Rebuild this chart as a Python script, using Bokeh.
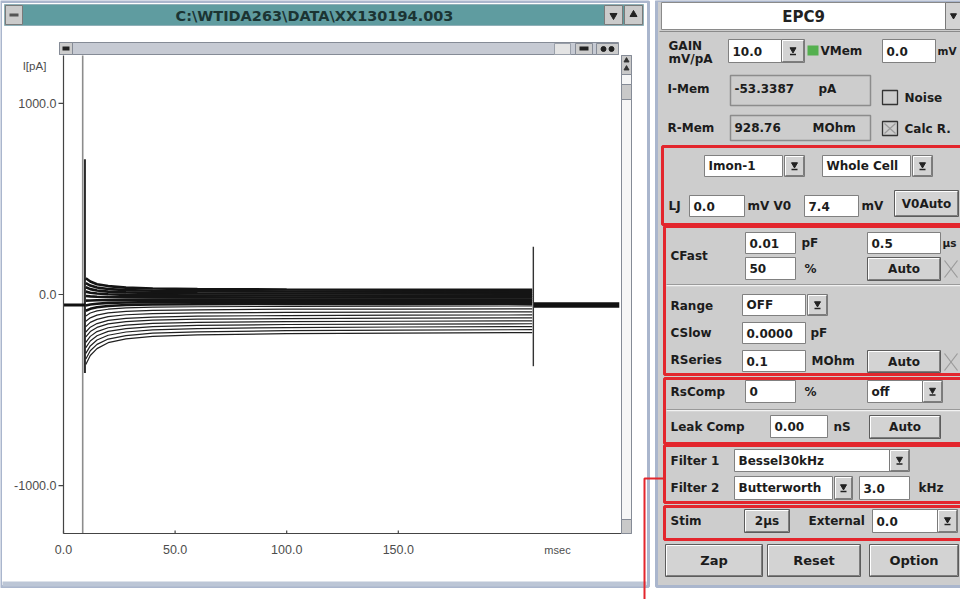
from bokeh.plotting import figure
from bokeh.models import Range1d
from bokeh.embed import file_html
from bokeh.resources import INLINE
from bokeh.core.properties import value

# ---------------- data ----------------
time_range_ms = [0.0, 250.0]
current_range_pA = [-1250.0, 1250.0]
x_tick_values = [0, 50, 100, 150]
x_tick_labels = ["0.0", "50.0", "100.0", "150.0"]
y_tick_values = [1000, 0, -1000]
y_tick_labels = ["1000.0", "0.0", "-1000.0"]
x_unit_label = "msec"
y_unit_label = "I[pA]"

holding_pA = -55.0
pre_pulse_ms = [0.0, 9.8]
post_pulse_ms = [210.8, 249.0]
cursor_ms = 8.6
onset_ms = 9.6
onset_spike_pA = [707.0, -410.0]
offset_ms = 210.5
offset_spike_pA = [250.0, -375.0]

step_time_ms = [10, 12, 15, 20, 28, 40, 60, 100, 150, 210]
step_traces_pA = [
    [85, 68, 54, 44, 36, 31, 28, 26, 25, 24],
    [60, 47, 37, 29, 23, 20, 17, 16, 15, 14],
    [38, 28, 21, 15, 11, 8, 6, 5, 5, 4],
    [15, 9, 5, 1, -2, -3, -5, -5, -6, -6],
    [-8, -10, -12, -13, -14, -15, -15, -16, -16, -16],
    [-32, -31, -30, -29, -28, -28, -27, -27, -27, -27],
    [-58, -52, -48, -44, -42, -40, -39, -39, -38, -38],
    [-85, -75, -67, -60, -55, -52, -51, -49, -49, -48],
    [-112, -97, -86, -77, -70, -66, -64, -62, -61, -60],
    [-140, -122, -108, -96, -88, -83, -80, -77, -76, -75],
    [-168, -146, -130, -116, -106, -100, -96, -94, -92, -91],
    [-196, -171, -152, -135, -125, -118, -113, -110, -108, -107],
    [-222, -194, -172, -154, -142, -134, -129, -126, -124, -122],
    [-250, -219, -194, -174, -160, -151, -146, -142, -140, -138],
    [-278, -243, -216, -193, -178, -168, -162, -157, -155, -153],
    [-308, -269, -238, -213, -196, -185, -178, -173, -170, -168],
    [-337, -294, -261, -233, -215, -202, -195, -189, -186, -184],
    [-366, -319, -283, -252, -232, -219, -211, -205, -202, -199],
]

window_title = "C:\\WTIDA263\\DATA\\XX130194.003"

# ---------------- styles ----------------
FONT = "DejaVu Sans"
RED = "#e3262d"
PANEL = "#cdcdcd"
BTN = "#d3d3d3"
WINB = "#aab6cd"
TEAL = "#5f9ca0"
INK = "#1c1c1c"

W, H = 960, 599
OX, OY = 8, 8

p = figure(width=W, height=H, x_range=Range1d(OX, OX + W), y_range=Range1d(OY + H, OY),
           x_axis_location=None, y_axis_location=None, toolbar_location=None,
           output_backend="svg", min_border=0, outline_line_color=None,
           background_fill_color="white", border_fill_color="white")
p.xgrid.visible = False
p.ygrid.visible = False


def boxes(rows, **kw):
    p.quad(left=[r[0] for r in rows], right=[r[1] for r in rows],
           top=[r[2] for r in rows], bottom=[r[3] for r in rows], **kw)


def texts(rows, size="12px", style="bold", align="left", color=INK, font=FONT):
    p.text(x=[r[0] for r in rows], y=[r[1] for r in rows], text=[r[2] for r in rows],
           text_font=value(font), text_font_size=size, text_font_style=style,
           text_align=align, text_baseline="middle", text_color=color)


def bevel(rows, light="white", dark="#7d7d7d"):
    lx, ly, dx, dy = [], [], [], []
    for (l, r, t, b) in rows:
        lx.append([l + 1, l + 1, r - 1]); ly.append([b - 1, t + 1, t + 1])
        dx.append([l + 1, r - 1, r - 1]); dy.append([b - 1, b - 1, t + 1])
    p.multi_line(xs=lx, ys=ly, line_color=light, line_width=1)
    p.multi_line(xs=dx, ys=dy, line_color=dark, line_width=1)


# ---------------- left window ----------------
boxes([(8, 656, 9, 594)], fill_color="white", line_color=WINB, line_width=3)
boxes([(12, 651, 12, 33)], fill_color=TEAL, line_color="#8fb0b8", line_width=1)
boxes([(13, 30, 13, 32), (612, 630, 13, 32), (632, 650, 13, 32)],
      fill_color="#cbcbcb", line_color="#7a7a7a", line_width=1)
boxes([(17, 26, 21, 24)], fill_color="#555555", line_color=None)
p.scatter(x=[621], y=[23], marker="inverted_triangle", size=7, color="#222222")
p.scatter(x=[641], y=[22], marker="triangle", size=7, color="#222222")
texts([(322, 23, window_title)], size="14.5px", align="center", color="#1b3433")
boxes([(10, 654, 589, 594)], fill_color="#bcc6d6", line_color=None)

# ---------------- trace plot (through sub-coordinates) ----------------
sub = p.subplot(x_source=Range1d(*time_range_ms), y_source=Range1d(*current_range_pA),
                x_target=Range1d(71, 629), y_target=Range1d(541, 63))
px_per_ms = (629 - 71) / (time_range_ms[1] - time_range_ms[0])
px_per_pA = (541 - 63) / (current_range_pA[1] - current_range_pA[0])
t0, t1 = time_range_ms
i0, i1 = current_range_pA

# cursor & transients
sub.segment(x0=[cursor_ms], y0=[i0], x1=[cursor_ms], y1=[i1], line_color="#8c8c8c", line_width=1.6)
sub.segment(x0=[onset_ms], y0=[onset_spike_pA[0]], x1=[onset_ms], y1=[onset_spike_pA[1]],
            line_color="#2a2a2a", line_width=2)
sub.segment(x0=[offset_ms], y0=[offset_spike_pA[0]], x1=[offset_ms], y1=[offset_spike_pA[1]],
            line_color="#333333", line_width=1.4)

# holding level before / after the step
sub.line(x=pre_pulse_ms, y=[holding_pA, holding_pA], line_color="#111111", line_width=3)
sub.line(x=post_pulse_ms, y=[holding_pA, holding_pA], line_color="#111111", line_width=5.5)

# step traces
n_dense = 8
sub.multi_line(xs=[step_time_ms] * n_dense, ys=step_traces_pA[:n_dense],
               line_color="#141414", line_width=2.6)
sub.multi_line(xs=[step_time_ms] * (len(step_traces_pA) - n_dense), ys=step_traces_pA[n_dense:],
               line_color="#202020", line_width=1.2)

# axes
sub.segment(x0=[t0], y0=[i0], x1=[t0], y1=[i1], line_color="#444444", line_width=1.2)
sub.segment(x0=[t0], y0=[i0], x1=[t1], y1=[i0], line_color="#444444", line_width=1.2)
sub.segment(x0=[t0 - 5 / px_per_ms] * len(y_tick_values), y0=y_tick_values,
            x1=[t0] * len(y_tick_values), y1=y_tick_values, line_color="#444444", line_width=1.2)
sub.segment(x0=x_tick_values, y0=[i0] * len(x_tick_values),
            x1=x_tick_values, y1=[i0 + 3 / px_per_pA] * len(x_tick_values),
            line_color="#444444", line_width=1.2)
sub.text(x=[t0] * len(y_tick_values), y=y_tick_values, text=y_tick_labels, x_offset=-7,
         text_align="right", text_baseline="middle", text_font=value("Liberation Sans"),
         text_font_size="12.5px", text_color="#4d4d4d")
sub.text(x=x_tick_values, y=[i0] * len(x_tick_values), text=x_tick_labels, y_offset=16,
         text_align="center", text_baseline="middle", text_font=value("Liberation Sans"),
         text_font_size="12.5px", text_color="#4d4d4d")
texts([(565, 557, x_unit_label)], size="11px", style="normal", align="center", color="#4d4d4d",
      font="Liberation Sans")
texts([(42, 73, y_unit_label)], size="11.5px", style="normal", align="center", color="#4d4d4d",
      font="Liberation Sans")

# plot window chrome: top bar & scroll bar
boxes([(67, 626, 50, 62)], fill_color="#c6cad3", line_color="#858b96", line_width=1)
boxes([(67, 80, 50, 62), (583, 600, 51, 62), (604, 626, 51, 62)],
      fill_color="#cccccc", line_color="#858b96", line_width=1)
boxes([(562, 578, 51, 62)], fill_color="#e4e4e4", line_color="#9aa0aa", line_width=1)
boxes([(70, 77, 54, 58), (587, 596, 54, 58)], fill_color="#222222", line_color=None)
p.scatter(x=[611, 619], y=[56.5, 56.5], marker="circle", size=5, color="#222222")
boxes([(629, 639, 63, 541)], fill_color="#f6f6f6", line_color="#858b96", line_width=1)
boxes([(629, 639, 63, 82), (629, 639, 92, 107), (629, 639, 527, 541)],
      fill_color="#c9c9c9", line_color="#858b96", line_width=1)
p.scatter(x=[634, 634], y=[68, 76], marker="triangle", size=5, color="#333333")

# ---------------- EPC9 panel ----------------
boxes([(664, 978, 8, 594)], fill_color=PANEL, line_color=WINB, line_width=3)
boxes([(669, 953, 10, 37)], fill_color="white", line_color="#8a8a8a", line_width=1)
texts([(811, 24, "EPC9")], size="15px", style="bold", align="center", color="#222222")
p.segment(x0=[667], y0=[39], x1=[976], y1=[39], line_color="#8a8a8a", line_width=1)

fields = [
    (736, 789, 47, 70, "10.0"),
    (890, 943, 47, 70, "0.0"),
    (712, 790, 163, 184, "Imon-1"),
    (830, 918, 163, 184, "Whole Cell"),
    (697, 752, 203, 224, "0.0"),
    (812, 866, 203, 224, "7.4"),
    (753, 803, 240, 261, "0.01"),
    (875, 948, 240, 261, "0.5"),
    (753, 803, 265, 287, "50"),
    (750, 813, 302, 323, "OFF"),
    (750, 813, 330, 351, "0.0000"),
    (750, 813, 358, 379, "0.1"),
    (753, 803, 388, 410, "0"),
    (875, 930, 388, 410, "off"),
    (778, 835, 423, 445, "0.00"),
    (742, 897, 457, 479, "Bessel30kHz"),
    (742, 840, 484, 507, "Butterworth"),
    (867, 917, 484, 507, "3.0"),
    (880, 945, 517, 540, "0.0"),
]
boxes([f[:4] for f in fields], fill_color="white", line_color="#808080", line_width=1)
texts([(f[0] + 4, (f[2] + f[3]) / 2, f[4]) for f in fields], size="12px")

readouts = [(738, 878, 83, 113), (738, 878, 123, 148)]
boxes(readouts, fill_color=PANEL, line_color="#8c8c8c", line_width=1.5)
texts([(742, 96, "-53.3387"), (826, 96, "pA"), (742, 135, "928.76"), (820, 135, "MOhm")], size="12px")

dropdowns = [(789, 812, 47, 70), (792, 812, 163, 184), (920, 940, 163, 184), (815, 835, 302, 323),
             (930, 950, 388, 410), (897, 917, 457, 479), (842, 860, 484, 507), (945, 965, 517, 540)]
boxes(dropdowns, fill_color=BTN, line_color="#7a7a7a", line_width=1)
bevel(dropdowns)
p.scatter(x=[(d[0] + d[1]) / 2 for d in dropdowns], y=[(d[2] + d[3]) / 2 - 1.5 for d in dropdowns],
          marker="inverted_triangle", size=6, color="#222222")
p.segment(x0=[(d[0] + d[1]) / 2 - 3 for d in dropdowns], y0=[(d[2] + d[3]) / 2 + 3.5 for d in dropdowns],
          x1=[(d[0] + d[1]) / 2 + 3 for d in dropdowns], y1=[(d[2] + d[3]) / 2 + 3.5 for d in dropdowns],
          line_color="#222222", line_width=1.5)
boxes([(953, 976, 10, 37)], fill_color=BTN, line_color="#7a7a7a", line_width=1)
p.scatter(x=[961], y=[23], marker="inverted_triangle", size=6, color="#222222")

buttons = [
    (902, 966, 198, 224, "V0Auto"),
    (875, 948, 265, 288, "Auto"),
    (875, 948, 358, 380, "Auto"),
    (877, 948, 423, 446, "Auto"),
    (752, 797, 517, 540, "2µs"),
    (673, 770, 552, 584, "Zap"),
    (775, 868, 552, 584, "Reset"),
    (877, 966, 552, 584, "Option"),
]
boxes([b[:4] for b in buttons], fill_color=BTN, line_color="#5c5c5c", line_width=1)
bevel([b[:4] for b in buttons])
texts([((b[0] + b[1]) / 2, (b[2] + b[3]) / 2, b[4]) for b in buttons[:5]], size="12px", align="center")
texts([((b[0] + b[1]) / 2, (b[2] + b[3]) / 2, b[4]) for b in buttons[5:]], size="13px", align="center")

# status lamp, check boxes, disabled crosses
boxes([(815, 826, 53, 63)], fill_color="#54b04f", line_color=None)
boxes([(890, 905, 98, 112), (890, 905, 129, 143)], fill_color=PANEL, line_color="#333333", line_width=1.3)
p.multi_line(xs=[[892, 903], [892, 903], [952, 965], [952, 965], [952, 965], [952, 965]],
             ys=[[131, 141], [141, 131], [268, 285], [285, 268], [361, 378], [378, 361]],
             line_color="#9a9a9a", line_width=1.2)

labels = [
    (676, 53, "GAIN"), (676, 66, "mV/pA"), (828, 58, "VMem"),
    (675, 96, "I-Mem"), (675, 135, "R-Mem"), (912, 105, "Noise"), (912, 136, "Calc R."),
    (676, 213, "LJ"), (755, 213, "mV"), (781, 213, "V0"), (869, 213, "mV"),
    (678, 263, "CFast"), (809, 250, "pF"), (812, 276, "%"),
    (678, 313, "Range"), (678, 340, "CSlow"), (818, 340, "pF"),
    (678, 367, "RSeries"), (819, 368, "MOhm"),
    (678, 399, "RsComp"), (812, 399, "%"),
    (678, 434, "Leak Comp"), (841, 434, "nS"),
    (678, 468, "Filter 1"), (678, 495, "Filter 2"), (926, 495, "kHz"),
    (678, 528, "Stim"), (816, 528, "External"),
]
texts(labels, size="12px")
texts([(945, 58, "mV"), (950, 250, "µs")], size="10.5px")

# etched separators
p.segment(x0=[674, 674], y0=[293, 418], x1=[971, 971], y1=[293, 418], line_color="#f2f2f2", line_width=1.5)
p.segment(x0=[674, 674], y0=[292, 417], x1=[971, 971], y1=[292, 417], line_color="#9a9a9a", line_width=1)

# red highlight frames and callout line
red_frames = [(670, 972, 154, 232), (672, 973, 234, 382), (672, 973, 386, 451),
              (672, 973, 453, 510), (672, 973, 514, 547)]
boxes(red_frames, fill_color=None, line_color=RED, line_width=3)
p.line(x=[671, 652, 652], y=[486, 486, 615], line_color=RED, line_width=2)

open("out.html", "w").write(file_html(p, INLINE))
